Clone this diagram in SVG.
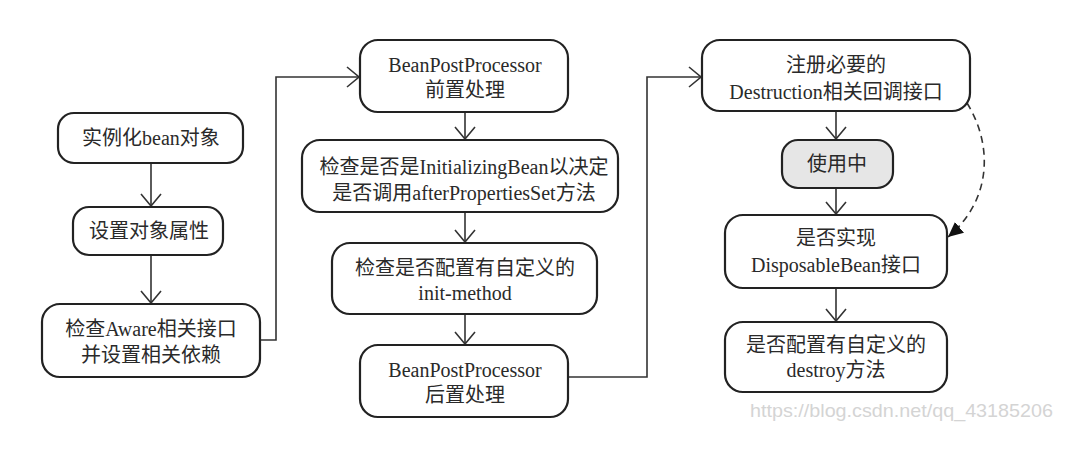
<svg xmlns="http://www.w3.org/2000/svg" width="1082" height="475" viewBox="0 0 1082 475">
<style>
.n rect{fill:#fff;stroke:#222;stroke-width:2.2}
.g rect{fill:#e6e6e6}
text{font-family:"Liberation Serif","Noto Sans CJK SC",serif;font-size:20px;fill:#2a2a2a;text-anchor:middle}
.c path{fill:none;stroke:#333;stroke-width:1.6}
.wm{font-family:"Liberation Sans",sans-serif;font-size:19px;fill:#d4d4d4;text-anchor:start}
</style>
<defs>
<marker id="open" markerWidth="14" markerHeight="22" refX="13" refY="11" orient="auto" markerUnits="userSpaceOnUse">
<path d="M1,1 L13,11 L1,21" fill="none" stroke="#333" stroke-width="1.6"/>
</marker>
<marker id="fill" markerWidth="16" markerHeight="14" refX="15" refY="7" orient="auto" markerUnits="userSpaceOnUse">
<path d="M0,0 L15,7 L0,14 Z" fill="#111"/>
</marker>
</defs>
<rect width="1082" height="475" fill="#fff"/>
<g id="connectors" class="c">
<path d="M151,163 V206" marker-end="url(#open)"/>
<path d="M151,255 V303" marker-end="url(#open)"/>
<path d="M260,340 H276 V77 H359" marker-end="url(#open)"/>
<path d="M465,112 V139" marker-end="url(#open)"/>
<path d="M465,212 V242" marker-end="url(#open)"/>
<path d="M465,314 V344" marker-end="url(#open)"/>
<path d="M568,377 H647 V77 H701" marker-end="url(#open)"/>
<path d="M836,111 V139" marker-end="url(#open)"/>
<path d="M836,188 V214" marker-end="url(#open)"/>
<path d="M836,288 V321" marker-end="url(#open)"/>
<path d="M967,103 C993,145 992,200 948,237" stroke-dasharray="7,5" marker-end="url(#fill)"/>
</g>
<g id="n1" class="n"><rect x="58" y="113" width="185" height="50" rx="16"/><text x="151" y="145">实例化bean对象</text></g>
<g id="n2" class="n"><rect x="73" y="207" width="150" height="48" rx="16"/><text x="149" y="238">设置对象属性</text></g>
<g id="n3" class="n"><rect x="42" y="304" width="218" height="73" rx="18"/><text x="151" y="336">检查Aware相关接口</text><text x="151" y="362">并设置相关依赖</text></g>
<g id="n4" class="n"><rect x="360" y="40" width="208" height="72" rx="18"/><text x="465" y="72">BeanPostProcessor</text><text x="465" y="97">前置处理</text></g>
<g id="n5" class="n"><rect x="302" y="140" width="316" height="72" rx="18"/><text x="464" y="174">检查是否是InitializingBean以决定</text><text x="464" y="200">是否调用afterPropertiesSet方法</text></g>
<g id="n6" class="n"><rect x="332" y="243" width="265" height="71" rx="18"/><text x="465" y="275">检查是否配置有自定义的</text><text x="465" y="300">init-method</text></g>
<g id="n7" class="n"><rect x="360" y="345" width="208" height="72" rx="18"/><text x="465" y="377">BeanPostProcessor</text><text x="465" y="402">后置处理</text></g>
<g id="n8" class="n"><rect x="702" y="40" width="268" height="71" rx="18"/><text x="836" y="72">注册必要的</text><text x="836" y="99">Destruction相关回调接口</text></g>
<g id="n9" class="n g"><rect x="782" y="140" width="111" height="48" rx="16"/><text x="837" y="171">使用中</text></g>
<g id="n10" class="n"><rect x="725" y="215" width="222" height="73" rx="18"/><text x="836" y="245">是否实现</text><text x="836" y="272">DisposableBean接口</text></g>
<g id="n11" class="n"><rect x="725" y="322" width="222" height="70" rx="18"/><text x="836" y="352">是否配置有自定义的</text><text x="836" y="377">destroy方法</text></g>
<text class="wm" x="750" y="417" textLength="303" lengthAdjust="spacingAndGlyphs">https://blog.csdn.net/qq_43185206</text>
</svg>
